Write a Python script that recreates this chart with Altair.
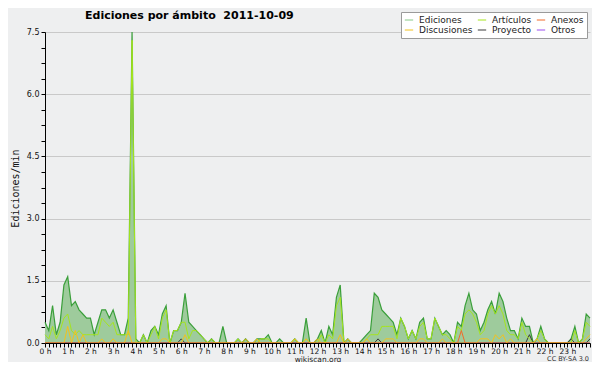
import altair as alt
import pandas as pd

# ---- data (edits per minute, one value every 10 minutes, 00:00 .. 24:00) ----
total = [
    0.5, 0.3, 0.9, 0.2, 0.5, 1.4,
    1.6, 0.9, 1.0, 0.8, 0.7, 0.6,
    0.6, 0.2, 0.5, 0.8, 0.8, 0.6,
    0.8, 0.5, 0.2, 0.2, 0.6, 7.5,
    0.1, 0.0, 0.2, 0.0, 0.3, 0.4,
    0.2, 0.7, 0.9, 0.0, 0.3, 0.3,
    0.5, 1.2, 0.5, 0.4, 0.3, 0.2,
    0.1, 0.0, 0.1, 0.0, 0.0, 0.4,
    0.0, 0.0, 0.0, 0.1, 0.0, 0.1,
    0.0, 0.0, 0.1, 0.1, 0.1, 0.2,
    0.0, 0.0, 0.1, 0.0, 0.0, 0.0,
    0.1, 0.0, 0.0, 0.6, 0.0, 0.0,
    0.1, 0.3, 0.0, 0.4, 0.2, 1.1,
    1.4, 0.0, 0.1, 0.0, 0.0, 0.0,
    0.1, 0.2, 0.3, 1.2, 1.1, 0.8,
    0.7, 0.6, 0.5, 0.2, 0.6, 0.4,
    0.1, 0.3, 0.1, 0.5, 0.6, 0.1,
    0.1, 0.6, 0.4, 0.2, 0.3, 0.2,
    0.0, 0.5, 0.4, 0.9, 1.2, 0.8,
    0.7, 0.3, 0.5, 0.8, 1.0, 0.7,
    1.2, 1.0, 0.6, 0.3, 0.3, 0.1,
    0.6, 0.4, 0.4, 0.0, 0.1, 0.4,
    0.1, 0.0, 0.0, 0.0, 0.0, 0.0,
    0.0, 0.1, 0.4, 0.0, 0.1, 0.7,
    0.6,
]
articulos = [
    0.2, 0.1, 0.4, 0.1, 0.3, 0.6,
    0.7, 0.3, 0.2, 0.3, 0.2, 0.2,
    0.2, 0.2, 0.2, 0.6, 0.5, 0.4,
    0.5, 0.2, 0.2, 0.2, 0.2, 7.3,
    0.0, 0.0, 0.2, 0.0, 0.2, 0.4,
    0.1, 0.6, 0.8, 0.0, 0.3, 0.3,
    0.5, 0.5, 0.1, 0.3, 0.3, 0.2,
    0.1, 0.0, 0.1, 0.0, 0.0, 0.0,
    0.0, 0.0, 0.0, 0.1, 0.0, 0.0,
    0.0, 0.0, 0.0, 0.1, 0.1, 0.1,
    0.0, 0.0, 0.0, 0.0, 0.0, 0.0,
    0.1, 0.0, 0.0, 0.1, 0.0, 0.0,
    0.0, 0.2, 0.0, 0.2, 0.1, 0.9,
    1.1, 0.0, 0.0, 0.0, 0.0, 0.0,
    0.0, 0.1, 0.2, 0.2, 0.2, 0.4,
    0.4, 0.4, 0.4, 0.1, 0.6, 0.4,
    0.1, 0.3, 0.1, 0.4, 0.5, 0.1,
    0.1, 0.6, 0.4, 0.2, 0.2, 0.1,
    0.0, 0.4, 0.3, 0.7, 0.8, 0.7,
    0.5, 0.2, 0.3, 0.7, 0.9, 0.7,
    0.9, 0.7, 0.3, 0.2, 0.2, 0.1,
    0.5, 0.2, 0.1, 0.0, 0.1, 0.3,
    0.1, 0.0, 0.0, 0.0, 0.0, 0.0,
    0.0, 0.0, 0.3, 0.0, 0.1, 0.5,
    0.4,
]
discusiones = [
    0.0, 0.0, 0.0, 0.0, 0.0, 0.0,
    0.4, 0.0, 0.3, 0.0, 0.2, 0.0,
    0.0, 0.0, 0.0, 0.1, 0.0, 0.0,
    0.1, 0.0, 0.0, 0.0, 0.3, 0.0,
    0.0, 0.0, 0.0, 0.0, 0.0, 0.0,
    0.0, 0.1, 0.1, 0.0, 0.0, 0.0,
    0.0, 0.2, 0.0, 0.0, 0.0, 0.0,
    0.0, 0.0, 0.0, 0.0, 0.0, 0.0,
    0.0, 0.0, 0.0, 0.0, 0.0, 0.1,
    0.0, 0.0, 0.1, 0.0, 0.0, 0.0,
    0.0, 0.0, 0.0, 0.0, 0.0, 0.0,
    0.1, 0.0, 0.0, 0.1, 0.0, 0.0,
    0.1, 0.0, 0.0, 0.0, 0.0, 0.0,
    0.2, 0.0, 0.1, 0.0, 0.0, 0.0,
    0.0, 0.1, 0.0, 0.0, 0.0, 0.0,
    0.1, 0.1, 0.1, 0.0, 0.0, 0.0,
    0.0, 0.0, 0.0, 0.1, 0.1, 0.0,
    0.0, 0.0, 0.0, 0.1, 0.0, 0.0,
    0.0, 0.0, 0.0, 0.0, 0.0, 0.0,
    0.0, 0.1, 0.1, 0.1, 0.0, 0.2,
    0.1, 0.2, 0.0, 0.1, 0.0, 0.0,
    0.0, 0.0, 0.0, 0.0, 0.1, 0.0,
    0.0, 0.0, 0.0, 0.0, 0.0, 0.0,
    0.0, 0.0, 0.0, 0.0, 0.0, 0.1,
    0.2,
]
anexos = [
    0.0, 0.0, 0.0, 0.0, 0.0, 0.0,
    0.0, 0.0, 0.0, 0.0, 0.0, 0.0,
    0.0, 0.0, 0.0, 0.0, 0.0, 0.0,
    0.0, 0.0, 0.0, 0.0, 0.0, 0.0,
    0.0, 0.0, 0.0, 0.0, 0.0, 0.0,
    0.0, 0.0, 0.0, 0.0, 0.0, 0.0,
    0.0, 0.0, 0.0, 0.0, 0.0, 0.0,
    0.0, 0.0, 0.0, 0.0, 0.0, 0.0,
    0.0, 0.0, 0.0, 0.0, 0.0, 0.0,
    0.0, 0.0, 0.0, 0.0, 0.0, 0.0,
    0.0, 0.0, 0.0, 0.0, 0.0, 0.0,
    0.0, 0.0, 0.0, 0.0, 0.0, 0.0,
    0.0, 0.0, 0.0, 0.0, 0.0, 0.0,
    0.0, 0.0, 0.0, 0.0, 0.0, 0.0,
    0.0, 0.0, 0.0, 0.0, 0.0, 0.0,
    0.0, 0.0, 0.0, 0.0, 0.0, 0.0,
    0.0, 0.0, 0.0, 0.0, 0.0, 0.0,
    0.0, 0.0, 0.0, 0.0, 0.0, 0.0,
    0.0, 0.0, 0.3, 0.0, 0.0, 0.0,
    0.0, 0.0, 0.0, 0.0, 0.0, 0.0,
    0.0, 0.0, 0.0, 0.0, 0.0, 0.0,
    0.0, 0.0, 0.0, 0.0, 0.0, 0.0,
    0.0, 0.0, 0.0, 0.0, 0.0, 0.0,
    0.0, 0.0, 0.0, 0.0, 0.0, 0.0,
    0.0,
]
proyecto = [
    0.0, 0.0, 0.0, 0.0, 0.0, 0.0,
    0.0, 0.0, 0.0, 0.0, 0.0, 0.0,
    0.0, 0.0, 0.0, 0.0, 0.0, 0.0,
    0.0, 0.0, 0.0, 0.0, 0.0, 0.0,
    0.0, 0.0, 0.0, 0.0, 0.0, 0.0,
    0.0, 0.0, 0.0, 0.0, 0.0, 0.0,
    0.1, 0.0, 0.0, 0.0, 0.0, 0.0,
    0.0, 0.0, 0.0, 0.0, 0.0, 0.0,
    0.0, 0.0, 0.0, 0.0, 0.0, 0.0,
    0.0, 0.0, 0.0, 0.0, 0.0, 0.0,
    0.0, 0.0, 0.0, 0.0, 0.0, 0.0,
    0.0, 0.0, 0.0, 0.0, 0.0, 0.0,
    0.0, 0.0, 0.0, 0.0, 0.0, 0.0,
    0.0, 0.0, 0.0, 0.0, 0.0, 0.0,
    0.0, 0.0, 0.0, 0.0, 0.1, 0.0,
    0.0, 0.0, 0.0, 0.0, 0.0, 0.0,
    0.0, 0.0, 0.0, 0.0, 0.0, 0.0,
    0.0, 0.0, 0.0, 0.0, 0.0, 0.0,
    0.0, 0.0, 0.0, 0.0, 0.0, 0.0,
    0.0, 0.0, 0.0, 0.0, 0.0, 0.0,
    0.0, 0.0, 0.0, 0.0, 0.0, 0.0,
    0.0, 0.0, 0.2, 0.0, 0.0, 0.0,
    0.0, 0.0, 0.0, 0.0, 0.0, 0.0,
    0.0, 0.1, 0.0, 0.0, 0.0, 0.0,
    0.1,
]
otros = [
    0.0, 0.0, 0.0, 0.0, 0.0, 0.0,
    0.0, 0.0, 0.0, 0.0, 0.0, 0.0,
    0.0, 0.0, 0.0, 0.0, 0.0, 0.0,
    0.0, 0.0, 0.0, 0.0, 0.0, 0.0,
    0.0, 0.0, 0.0, 0.0, 0.0, 0.0,
    0.0, 0.0, 0.0, 0.0, 0.0, 0.0,
    0.0, 0.0, 0.0, 0.0, 0.0, 0.0,
    0.0, 0.0, 0.0, 0.0, 0.0, 0.0,
    0.0, 0.0, 0.0, 0.0, 0.0, 0.0,
    0.0, 0.0, 0.0, 0.0, 0.0, 0.0,
    0.0, 0.0, 0.0, 0.0, 0.0, 0.0,
    0.0, 0.0, 0.0, 0.0, 0.0, 0.0,
    0.0, 0.0, 0.0, 0.0, 0.0, 0.0,
    0.0, 0.0, 0.0, 0.0, 0.0, 0.0,
    0.0, 0.0, 0.0, 0.0, 0.0, 0.0,
    0.0, 0.0, 0.0, 0.0, 0.0, 0.0,
    0.0, 0.0, 0.0, 0.0, 0.0, 0.0,
    0.0, 0.0, 0.0, 0.0, 0.0, 0.0,
    0.0, 0.0, 0.0, 0.0, 0.0, 0.0,
    0.0, 0.0, 0.0, 0.0, 0.0, 0.0,
    0.0, 0.0, 0.0, 0.0, 0.0, 0.0,
    0.0, 0.0, 0.0, 0.0, 0.0, 0.0,
    0.0, 0.0, 0.0, 0.0, 0.0, 0.0,
    0.0, 0.0, 0.0, 0.0, 0.0, 0.0,
    0.0,
]

legend_names = ["Ediciones", "Artículos", "Anexos", "Discusiones", "Proyecto", "Otros"]
legend_colors = ["#86c986", "#a6e51e", "#f26a2a", "#f3c21c", "#3a3a3a", "#9b4ff0"]
title_text = ["Ediciones por ámbito\u00a0\u00a02011-10-09"]
y_title = "Ediciones/min"
x_title = "wikiscan.org"
license_text = ["CC BY-SA 3.0"]

# ---- tables ----
t = [i / 6 for i in range(len(total))]
df_total = pd.DataFrame({"t": t, "v": total})
series = {
    "Otros": otros,
    "Proyecto": proyecto,
    "Artículos": articulos,
    "Discusiones": discusiones,
    "Anexos": anexos,
}
rows = []
for name, vals in series.items():
    for i, v in enumerate(vals):
        rows.append({"serie": name, "t": t[i], "v": v})
df_lines = pd.DataFrame(rows)

x_ticks = [i / 6 for i in range(145)]
y_ticks = [k * 0.375 for k in range(21)]

x_scale = alt.Scale(domain=[0, 24], nice=False)
y_scale = alt.Scale(domain=[0, 7.5], nice=False)

x_axis = alt.Axis(
    values=x_ticks,
    labelExpr="(abs(datum.value - round(datum.value)) < 0.01 && round(datum.value) < 24) ? round(datum.value) + ' h' : ''",
    labelOverlap=False,
    labelFlush=False,
    labelFont="DejaVu Sans",
    labelFontSize=7.5,
    labelColor="#111",
    labelPadding=0,
    tickSize=4,
    tickColor="black",
    tickWidth=1,
    domainColor="black",
    grid=False,
    title=x_title,
    titleFont="DejaVu Sans",
    titleFontSize=7.5,
    titleFontWeight="normal",
    titleColor="#222",
    titleBaseline="alphabetic",
    titleY=18,
    zindex=1,
)
y_axis = alt.Axis(
    values=y_ticks,
    labelExpr="(round(datum.value / 0.375) % 4 == 0) ? format(datum.value, '.1f') : ''",
    labelOverlap=False,
    labelFont="DejaVu Sans",
    labelFontSize=8,
    labelColor="#111",
    labelPadding=2,
    tickSize=4,
    tickColor="black",
    domainColor="black",
    grid=True,
    gridColor="#c9c9c9",
    gridOpacity={"condition": {"test": "round(datum.value / 0.375) % 4 == 0", "value": 1}, "value": 0},
    title=y_title,
    titleFont="DejaVu Sans Mono",
    titleFontSize=10,
    titleFontWeight="normal",
    titleColor="#111",
    titleX=-30,
    titleY=156,
    titleAngle=270,
    titleAlign="center",
    titleBaseline="middle",
    zindex=0,
)

X = alt.X("t:Q", scale=x_scale, axis=x_axis)
Y = alt.Y("v:Q", scale=y_scale, axis=y_axis)

area = alt.Chart(df_total).mark_area(color="#9ecb9c", opacity=1).encode(x=X, y=Y)
total_line = alt.Chart(df_total).mark_line(color="#3a9f3a", strokeWidth=1.2).encode(x=X, y=Y)

color_scale = alt.Scale(domain=legend_names, range=legend_colors)
legend = alt.Legend(
    orient="none",
    legendX=356,
    legendY=-20,
    direction="horizontal",
    columns=3,
    title=None,
    symbolType="stroke",
    symbolStrokeWidth=1,
    symbolSize=70,
    labelFont="DejaVu Sans",
    labelFontSize=9,
    labelColor="#222",
    labelOffset=5,
    fillColor="white",
    strokeColor="#9a9a9a",
    padding=3,
    rowPadding=0,
    columnPadding=2,
    zindex=2,
)

line_layers = []
for name in series:
    line_layers.append(
        alt.Chart(df_lines)
        .transform_filter(alt.datum.serie == name)
        .mark_line(strokeWidth=1)
        .encode(
            x=X,
            y=Y,
            color=alt.Color("serie:N", scale=color_scale, legend=legend),
        )
    )

title_layer = alt.Chart(pd.DataFrame({"txt": title_text})).mark_text(
    align="left", baseline="alphabetic", font="DejaVu Sans", fontSize=11,
    fontWeight="bold", color="black"
).encode(x=alt.value(40), y=alt.value(-13), text="txt:N")

license_layer = alt.Chart(pd.DataFrame({"txt": license_text})).mark_text(
    align="right", baseline="alphabetic", font="DejaVu Sans", fontSize=6.5, color="#333"
).encode(x=alt.value(544), y=alt.value(329), text="txt:N")

chart = alt.layer(area, total_line, *line_layers, title_layer, license_layer).properties(
    width=545,
    height=311,
    autosize=alt.AutoSizeParams(type="none"),
    padding={"left": 37, "top": 24, "right": 2, "bottom": 19},
    background="#eeeff0",
).configure_view(strokeWidth=0).configure_axisX(labelOverlap=False)

chart.save("out.html", embed_options={"renderer": "svg", "actions": False})
